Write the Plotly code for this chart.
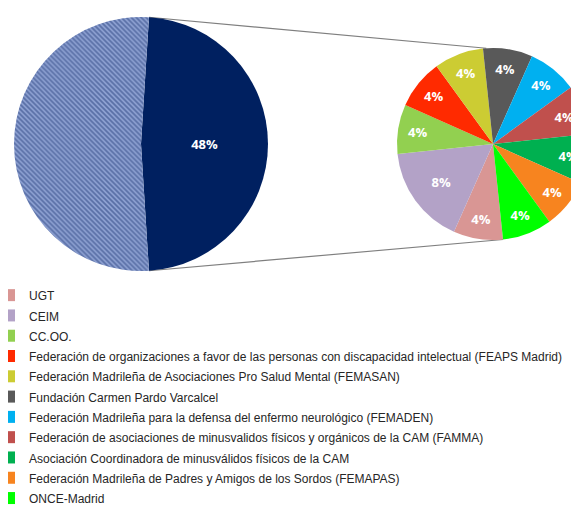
import math
import plotly.graph_objects as go

# ---------------- data ----------------
main_labels = ["Principal", "Otros"]
main_values = [48, 52]
main_text = ["48%", ""]

sub_labels = [
    "UGT",
    "CEIM",
    "CC.OO.",
    "Federación de organizaciones a favor de las personas con discapacidad intelectual (FEAPS Madrid)",
    "Federación Madrileña de Asociaciones Pro Salud Mental (FEMASAN)",
    "Fundación Carmen Pardo Varcalcel",
    "Federación Madrileña para la defensa del enfermo neurológico (FEMADEN)",
    "Federación de asociaciones de minusvalidos físicos y orgánicos de la CAM (FAMMA)",
    "Asociación Coordinadora de minusválidos físicos de la CAM",
    "Federación Madrileña de Padres y Amigos de los Sordos (FEMAPAS)",
    "ONCE-Madrid",
]
sub_values = [4, 8, 4, 4, 4, 4, 4, 4, 4, 4, 4]
sub_text = ["4%", "8%", "4%", "4%", "4%", "4%", "4%", "4%", "4%", "4%", "4%"]
sub_colors = ["#d99694", "#b3a2c7", "#92d050", "#ff2a00", "#cccc33", "#595959",
              "#00b0f0", "#c0504d", "#00b050", "#f7841f", "#00ff00"]

# The page body adds an 8px margin; the figure is sized so that the visible
# 579x506 window shows the same region as the reference.
W, H = 590, 530
OFF = 8

# pie geometry (figure pixels)
L_left, L_top, L_size = 14 - OFF, 17 - OFF, 254
R_left, R_top, R_size = 397 - OFF, 48 - OFF, 192

main_rotation = 90 - main_values[0] * 3.6 / 2
sub_rotation = 174

fig = go.Figure()

fig.add_trace(go.Pie(
    labels=main_labels, values=main_values, text=main_text,
    textinfo="text", textposition="inside",
    sort=False, direction="clockwise", rotation=main_rotation,
    marker=dict(colors=["#002060", "#6f82b3"],
                line=dict(width=0),
                pattern=dict(shape=["", "\\"], fgcolor="#243c7a", bgcolor="#8ea2d2",
                             size=3.5, solidity=0.5, fillmode="overlay")),
    textfont=dict(color="white", size=13, family="Open Sans", weight="bold"),
    insidetextorientation="horizontal",
    showlegend=False, hoverinfo="skip",
    domain=dict(x=[L_left / W, (L_left + L_size) / W],
                y=[1 - (L_top + L_size) / H, 1 - L_top / H]),
))

legend_names = ['<span style="font-size:12px">' + s + '</span>' for s in sub_labels]

fig.add_trace(go.Pie(
    labels=legend_names, values=sub_values, text=sub_text,
    textinfo="text", textposition="inside",
    sort=False, direction="clockwise", rotation=sub_rotation,
    marker=dict(colors=sub_colors, line=dict(width=0)),
    textfont=dict(color="white", size=13, family="Open Sans", weight="bold"),
    insidetextorientation="horizontal",
    showlegend=True,
    domain=dict(x=[R_left / W, min(1, (R_left + R_size) / W)],
                y=[1 - (R_top + R_size) / H, 1 - R_top / H]),
))

# connector lines derived from the pie geometry
def pt(left, top, size, ang_deg):
    r = size / 2
    cx, cy = left + r, top + r
    a = math.radians(ang_deg)
    return (cx + r * math.sin(a)) / W, 1 - (cy - r * math.cos(a)) / H

main_a0 = main_rotation
main_a1 = main_rotation + main_values[0] * 3.6
p1 = pt(L_left, L_top, L_size, main_a0)
p2 = pt(R_left, R_top, R_size, -4)
p3 = pt(L_left, L_top, L_size, main_a1)
p4 = pt(R_left, R_top, R_size, sub_rotation)
for a, b in [(p1, p2), (p3, p4)]:
    fig.add_shape(type="line", xref="paper", yref="paper",
                  x0=a[0], y0=a[1], x1=b[0], y1=b[1],
                  line=dict(color="#7f7f7f", width=1.2), layer="below")

legend_text_x = 30 - OFF
legend_top = 296 - OFF - 16

fig.update_layout(
    width=W, height=H,
    margin=dict(l=0, r=0, t=0, b=0, autoexpand=False),
    paper_bgcolor="white", plot_bgcolor="white",
    legend=dict(x=(legend_text_x - 41) / W, y=1 - legend_top / H,
                xanchor="left", yanchor="top",
                font=dict(family="Liberation Sans, Arial", size=13.3, color="#262626"),
                bgcolor="rgba(0,0,0,0)", traceorder="normal"),
)

fig.write_html("out.html")
